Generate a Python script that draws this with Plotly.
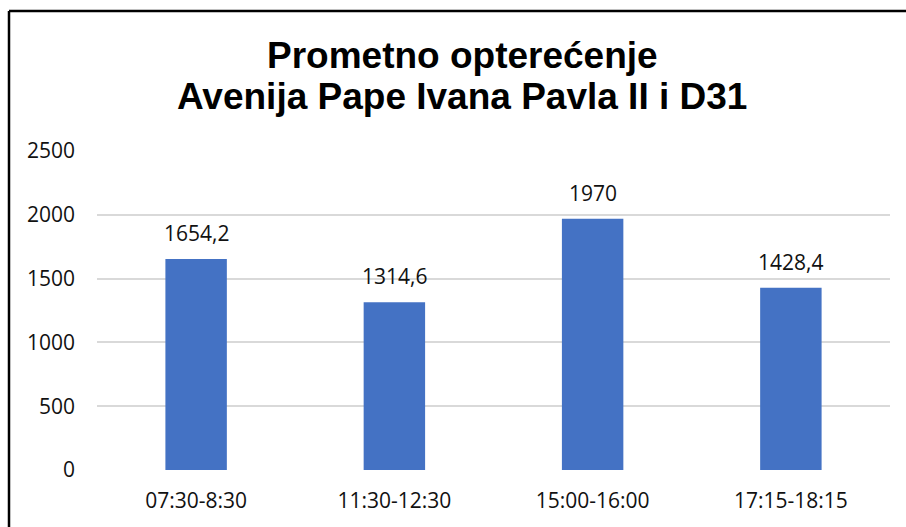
"""Traffic load bar chart (Prometno opterećenje)."""

import plotly.graph_objects as go

categories = ["07:30-8:30", "11:30-12:30", "15:00-16:00", "17:15-18:15"]
values = [1654.2, 1314.6, 1970, 1428.4]
y_ticks = [0, 500, 1000, 1500, 2000, 2500]
title_lines = ["Prometno opterećenje", "Avenija Pape Ivana Pavla II i D31"]

BAR_COLOR = "#4472C4"
TEXT_FONT = "Open Sans, Noto Sans, sans-serif"
TITLE_FONT = "Liberation Sans, Arial, sans-serif"

W, H = 906, 527
L, R, T, B = 97, 16, 151, 57
PW, PH = W - L - R, H - T - B


def px_x(x):
    return (x - L) / PW


def px_y(y):
    return (H - B - y) / PH


def fmt(v):
    # comma as decimal separator, like the original
    s = f"{v:g}"
    return s.replace(".", ",")


fig = go.Figure(
    data=go.Bar(
        x=categories,
        y=values,
        marker=dict(color=BAR_COLOR, line=dict(width=0)),
        hoverinfo="x+y",
    )
)

for cat, v in zip(categories, values):
    fig.add_annotation(
        x=cat,
        y=v,
        text=fmt(v),
        showarrow=False,
        yanchor="bottom",
        yshift=10,
        font=dict(family=TEXT_FONT, size=21, color="#111111"),
    )

# two-line title, placed line by line to get the tighter line spacing
for line, yc in zip(title_lines, [56, 96]):
    fig.add_annotation(
        xref="paper",
        yref="paper",
        x=px_x(462),
        y=px_y(yc),
        xanchor="center",
        yanchor="middle",
        text=f"<b>{line}</b>",
        showarrow=False,
        font=dict(family=TITLE_FONT, size=37, color="#000000"),
    )

border = dict(type="line", xref="paper", yref="paper", line=dict(color="#000000", width=2.5), layer="above")

fig.update_layout(
    width=W,
    height=H,
    margin=dict(l=L, r=R, t=T, b=B),
    paper_bgcolor="white",
    plot_bgcolor="white",
    bargap=0.69,
    showlegend=False,
    xaxis=dict(
        showgrid=False,
        showline=False,
        zeroline=False,
        ticks="",
        ticklabelstandoff=16,
        tickfont=dict(family=TEXT_FONT, size=21, color="#111111"),
    ),
    yaxis=dict(
        range=[0, 2500],
        tickvals=y_ticks,
        showgrid=True,
        gridcolor="#d9d9d9",
        gridwidth=1.5,
        zeroline=False,
        showline=False,
        ticks="",
        ticklabelstandoff=21,
        tickfont=dict(family=TEXT_FONT, size=21, color="#111111"),
    ),
    shapes=[
        # chart border: only the left and top edges fall inside the crop
        dict(border, x0=px_x(9), x1=px_x(9), y0=-0.5, y1=px_y(11)),
        dict(border, x0=px_x(9), x1=1.3, y0=px_y(11), y1=px_y(11)),
    ],
)

# drop the default 8px body margin so the figure fills the window exactly
fig.write_html(
    "out.html",
    config={"displayModeBar": False},
    post_script="document.body.style.margin='0';document.body.style.overflow='hidden';",
)
